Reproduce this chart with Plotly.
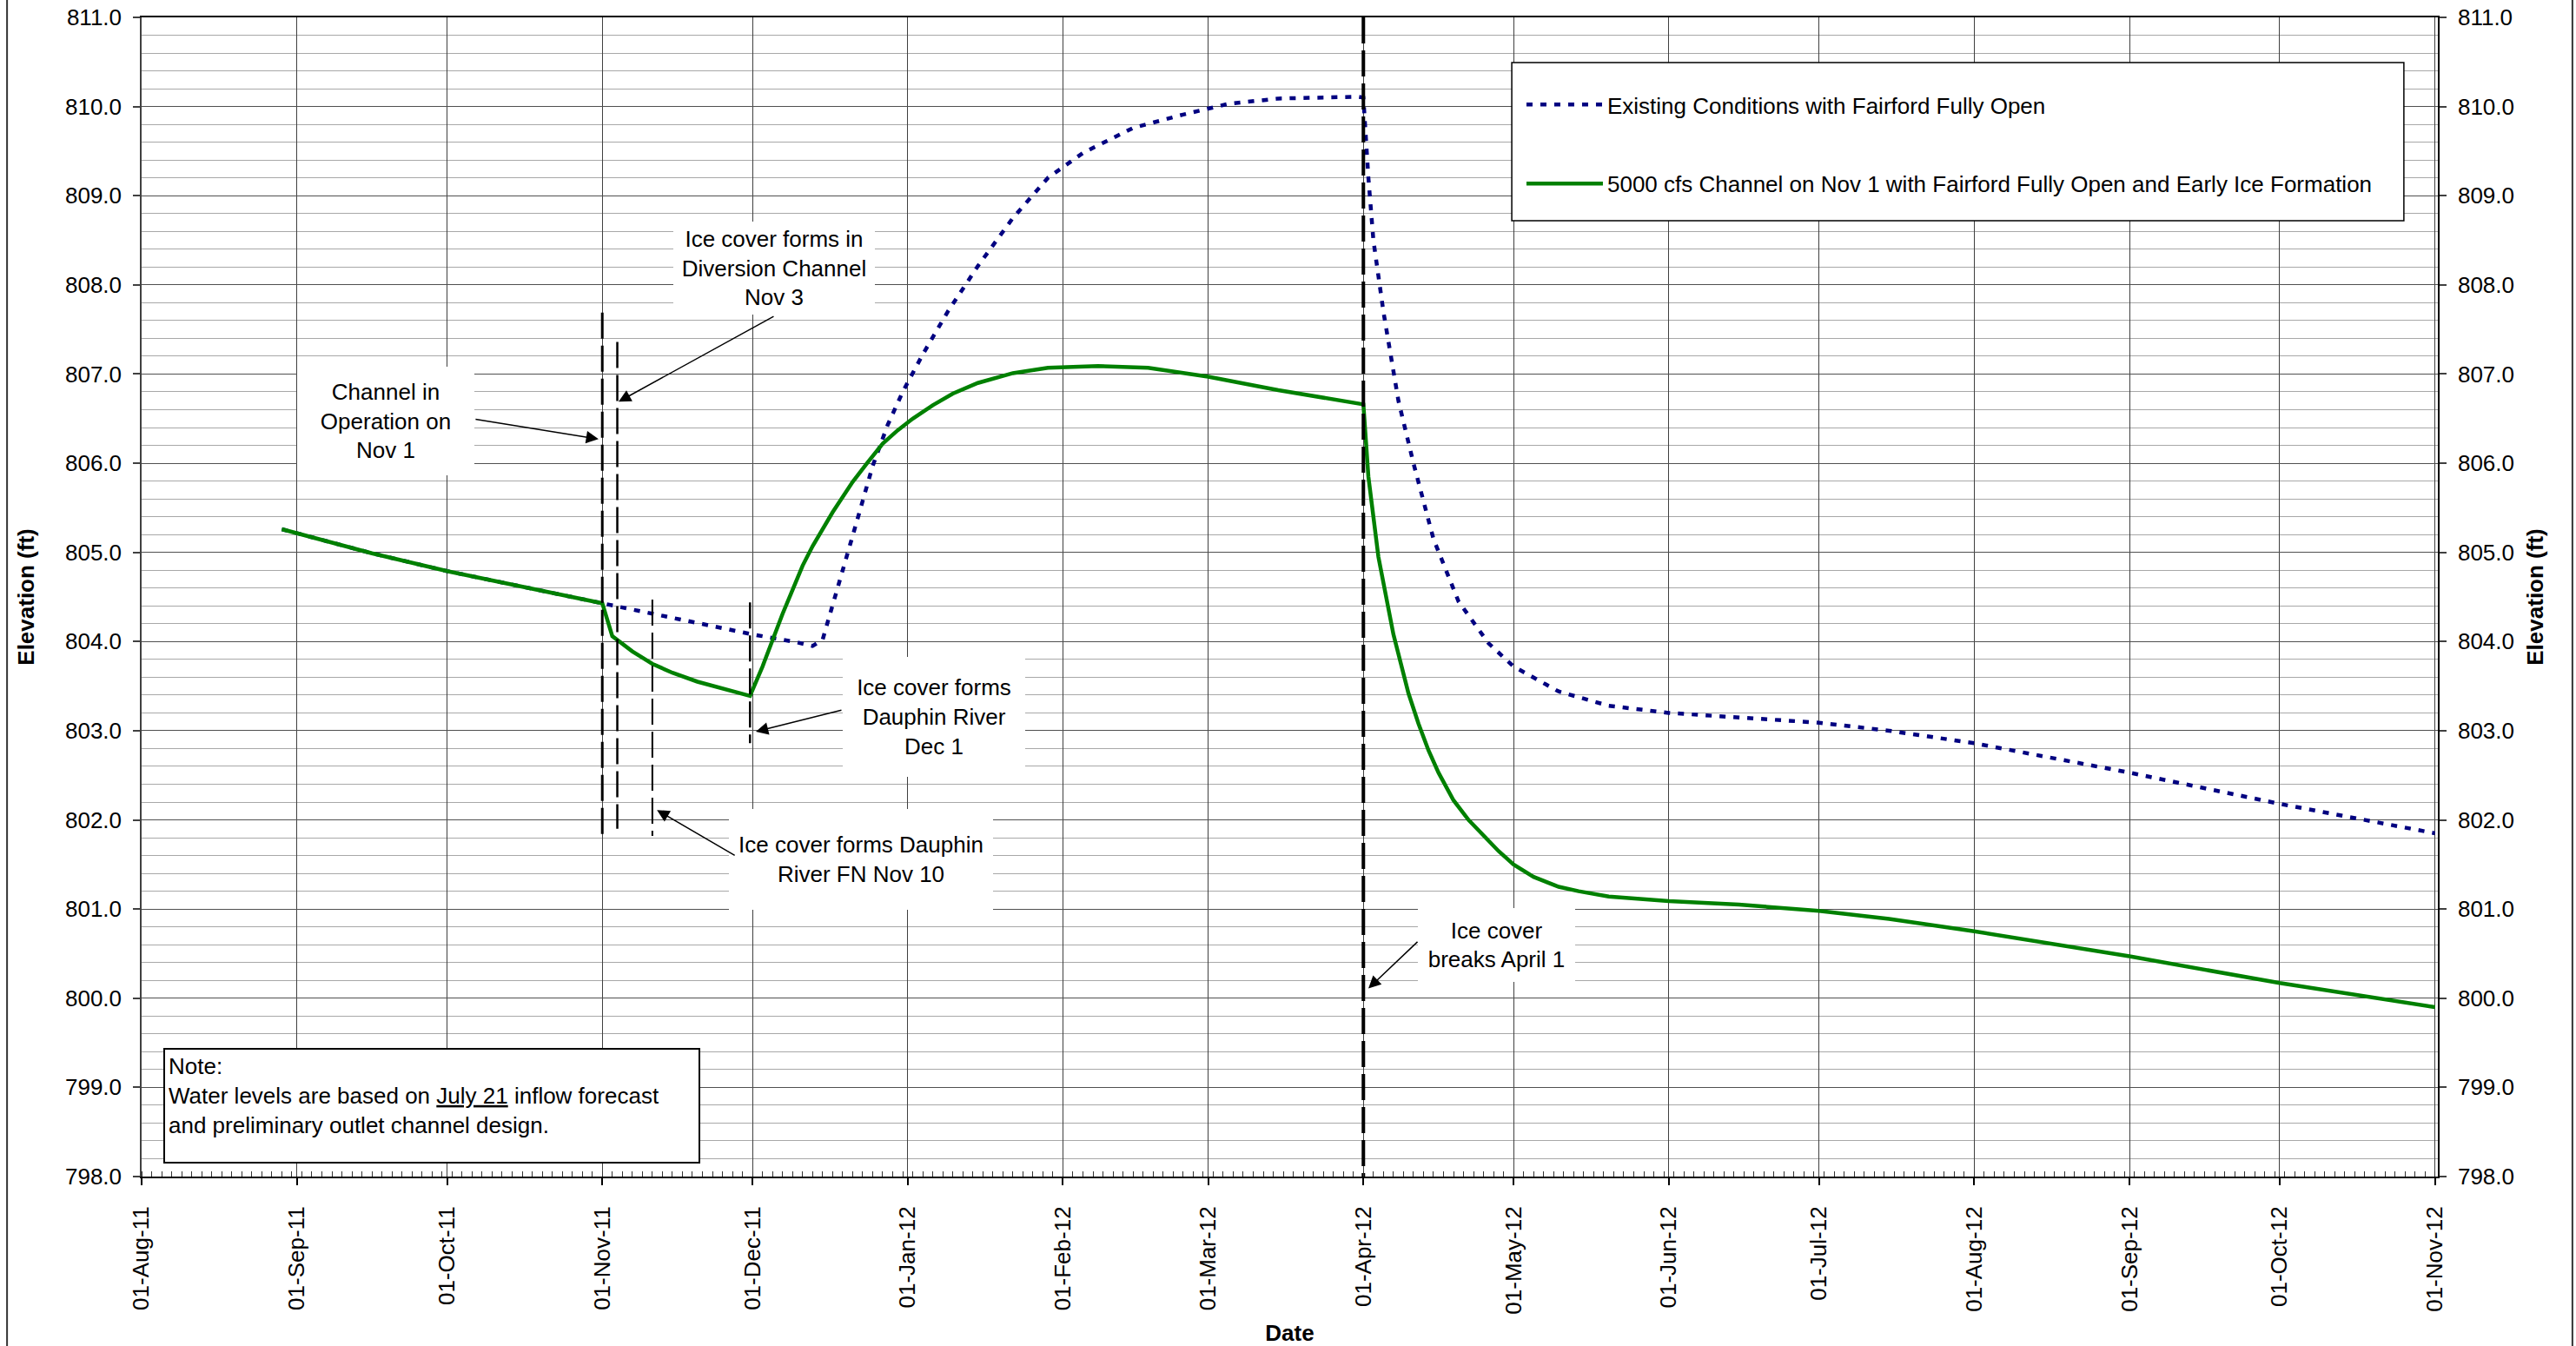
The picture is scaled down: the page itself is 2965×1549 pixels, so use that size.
import plotly.graph_objects as go

FONT = "Liberation Sans, Arial, Helvetica, sans-serif"

# Lake elevation, existing conditions with Fairford fully open (ft)
existing_dates = [
    "2011-08-29", "2011-09-16", "2011-10-01", "2011-11-01", "2011-11-11",
    "2011-11-20", "2011-12-01", "2011-12-10", "2011-12-13", "2011-12-15",
    "2011-12-17", "2011-12-19", "2011-12-22", "2011-12-25", "2011-12-28",
    "2011-12-31", "2012-01-04", "2012-01-09", "2012-01-15", "2012-01-22",
    "2012-01-29", "2012-02-05", "2012-02-15", "2012-02-25", "2012-03-05",
    "2012-03-15", "2012-03-31", "2012-04-01", "2012-04-02", "2012-04-03",
    "2012-04-05", "2012-04-08", "2012-04-11", "2012-04-15", "2012-04-20",
    "2012-04-26", "2012-05-01", "2012-05-10", "2012-05-20", "2012-06-01",
    "2012-06-15", "2012-07-01", "2012-07-15", "2012-08-01", "2012-09-01",
    "2012-10-01", "2012-11-01",
]
existing_elev = [
    805.26, 804.99, 804.79, 804.43, 804.31,
    804.21, 804.08, 803.99, 803.95, 804.02,
    804.40, 804.78, 805.38, 805.97, 806.43,
    806.80, 807.22, 807.70, 808.21, 808.75,
    809.20, 809.48, 809.76, 809.91, 810.03,
    810.09, 810.11, 810.10, 809.20, 808.50,
    807.70, 806.70, 806.00, 805.15, 804.45,
    803.98, 803.72, 803.44, 803.28, 803.20,
    803.15, 803.09, 803.00, 802.86, 802.53,
    802.18, 801.85,
]

# Lake elevation, 5000 cfs channel on Nov 1 with early ice formation (ft)
channel_dates = [
    "2011-08-29", "2011-09-16", "2011-10-01", "2011-11-01", "2011-11-03",
    "2011-11-07", "2011-11-11", "2011-11-15", "2011-11-20", "2011-11-25",
    "2011-11-30 12:00", "2011-12-03", "2011-12-05", "2011-12-07", "2011-12-09",
    "2011-12-11", "2011-12-13", "2011-12-15", "2011-12-17", "2011-12-19",
    "2011-12-21", "2011-12-24", "2011-12-27", "2011-12-30", "2012-01-02",
    "2012-01-06", "2012-01-10", "2012-01-15", "2012-01-22", "2012-01-29",
    "2012-02-08", "2012-02-18", "2012-03-01", "2012-03-15", "2012-04-01",
    "2012-04-02", "2012-04-04", "2012-04-07", "2012-04-10", "2012-04-12",
    "2012-04-14", "2012-04-16", "2012-04-19", "2012-04-22", "2012-04-25",
    "2012-04-28", "2012-05-01", "2012-05-05", "2012-05-10", "2012-05-14",
    "2012-05-20", "2012-06-01", "2012-06-15", "2012-07-01", "2012-07-15",
    "2012-08-01", "2012-09-01", "2012-10-01", "2012-11-01",
]
channel_elev = [
    805.26, 804.99, 804.79, 804.43, 804.06,
    803.89, 803.75, 803.65, 803.55, 803.47,
    803.39, 803.72, 804.02, 804.31, 804.58,
    804.85, 805.07, 805.27, 805.45, 805.62,
    805.79, 806.01, 806.22, 806.37, 806.50,
    806.65, 806.78, 806.90, 807.01, 807.07,
    807.09, 807.07, 806.97, 806.82, 806.66,
    805.85, 804.95, 804.08, 803.42, 803.08,
    802.78, 802.53, 802.22, 802.00, 801.82,
    801.65, 801.50, 801.36, 801.25, 801.20,
    801.14, 801.09, 801.05, 800.98, 800.89,
    800.75, 800.47, 800.17, 799.90,
]

# Event markers (dashed verticals): date, lower and upper elevation
event_dates = ["2011-11-01", "2011-11-04", "2011-11-11", "2011-11-30 12:00", "2012-04-01"]
event_low = [801.81, 801.90, 801.82, 802.86, 798.0]
event_high = [807.69, 807.36, 804.47, 804.44, 811.0]
event_widths = [3, 2.5, 2, 2.5, 4]

series_names = [
    "Existing Conditions with Fairford Fully Open",
    "5000 cfs Channel on Nov 1 with Fairford Fully Open and Early Ice Formation",
]

fig = go.Figure()

fig.add_trace(go.Scatter(
    x=existing_dates, y=existing_elev, mode="lines", name=series_names[0],
    legendgroup="a",
    line=dict(color="#000080", width=4.5, dash="7px,9px"),
))
fig.add_trace(go.Scatter(
    x=channel_dates, y=channel_elev, mode="lines", name=series_names[1],
    legendgroup="b",
    line=dict(color="#008000", width=4.5),
))

# Event markers sit on the right-hand elevation axis (same scale as the left)
for d, lo, hi, w in zip(event_dates, event_low, event_high, event_widths):
    fig.add_trace(go.Scatter(
        x=[d, d], y=[hi, lo], mode="lines", showlegend=False, hoverinfo="skip",
        yaxis="y2",
        line=dict(color="black", width=w, dash="30px,8px"),
    ))

# Callout labels
callouts = [
    ("Channel in<br>Operation on<br>Nov 1", "2011-09-18 20:00", 806.47, 204, 125),
    ("Ice cover forms in<br>Diversion Channel<br>Nov 3", "2011-12-05 07:00", 808.19, 232, 107),
    ("Ice cover forms<br>Dauphin River<br>Dec 1", "2012-01-06 07:00", 803.16, 210, 138),
    ("Ice cover forms Dauphin<br>River FN Nov 10", "2011-12-22 14:00", 801.56, 304, 116),
    ("Ice cover<br>breaks April 1", "2012-04-27 14:00", 800.60, 181, 85),
]
annotations = []
for text, x, y, w, h in callouts:
    annotations.append(dict(
        text=text, x=x, y=y, xref="x", yref="y", showarrow=False,
        width=w, height=h, bgcolor="white", borderpad=0, borderwidth=0,
        align="center", valign="middle",
        font=dict(family=FONT, size=26, color="black"),
    ))

# Arrow tips (date, elevation) and tail offsets in px
arrows = [
    ("2011-10-31 06:00", 806.27, -143, -23),
    ("2011-11-04 06:00", 806.69, 180, -99),
    ("2011-12-01 16:00", 802.99, 100, -25),
    ("2011-11-11 22:00", 802.11, 91, 53),
    ("2012-04-02", 800.11, 58, -55),
]
for x, y, ax, ay in arrows:
    annotations.append(dict(
        text="", x=x, y=y, xref="x", yref="y", ax=ax, ay=ay,
        showarrow=True, arrowhead=2, arrowsize=1.9, arrowwidth=1.5,
        arrowcolor="black", standoff=0,
    ))

# Note box
annotations.append(dict(
    text="Note:<br>Water levels are based on <u>July 21</u> inflow forecast"
         "<br>and preliminary outlet channel design.",
    xref="paper", yref="paper", x=0.00946, y=0.1109,
    xanchor="left", yanchor="top", showarrow=False,
    width=606, height=121, align="left", valign="top",
    bgcolor="white", bordercolor="black", borderwidth=2, borderpad=4,
    font=dict(family=FONT, size=26, color="black"),
))

shapes = [
    # legend frame
    dict(type="rect", xref="paper", yref="paper",
         x0=0.5967, x1=0.9852, y0=0.8246, y1=0.9610,
         fillcolor="white", line=dict(color="black", width=1.5), layer="above"),
    # outer chart frame
    dict(type="rect", xref="paper", yref="paper",
         x0=-0.0586, x1=1.0586, y0=-0.16, y1=1.03,
         fillcolor="rgba(0,0,0,0)", line=dict(color="#333333", width=2),
         layer="below"),
]

elev_axis = dict(
    range=[798, 811], dtick=1, tick0=798, tickformat=".1f",
    ticks="outside", ticklen=8, tickwidth=1.5, tickcolor="#404040",
    ticklabelstandoff=8,
    tickfont=dict(family=FONT, size=26, color="black"),
    zeroline=False,
)

fig.update_layout(
    width=2965, height=1549,
    margin=dict(l=163, r=159, t=20, b=195, autoexpand=False),
    paper_bgcolor="white", plot_bgcolor="white",
    font=dict(family=FONT, size=26, color="black"),
    showlegend=True,
    legend=dict(
        x=0.6012, y=0.9423, xanchor="left", yanchor="top",
        bgcolor="rgba(0,0,0,0)", borderwidth=0,
        font=dict(family=FONT, size=26, color="black"),
        itemwidth=88, tracegroupgap=54, traceorder="grouped",
    ),
    annotations=annotations,
    shapes=shapes,
    xaxis=dict(
        type="date",
        range=["2011-08-01", "2012-11-01 14:00"],
        tick0="2011-08-01", dtick="M1", tickformat="%d-%b-%y",
        tickangle=-90, ticks="outside", ticklen=8, tickwidth=1.5, tickcolor="black",
        ticklabelstandoff=14,
        tickfont=dict(family=FONT, size=26, color="black"),
        showgrid=True, gridcolor="#404040", gridwidth=1,
        showline=True, linecolor="black", linewidth=2, mirror=True,
        zeroline=False,
        minor=dict(dtick=172800000, tick0="2011-08-01", ticks="inside",
                   ticklen=6, tickcolor="#333333", tickwidth=1, showgrid=False),
        title=dict(text="<b>Date</b>", standoff=18,
                   font=dict(family=FONT, size=26, color="black")),
    ),
    yaxis=dict(
        **elev_axis,
        showgrid=True, gridcolor="#505050", gridwidth=1,
        showline=True, linecolor="#404040", linewidth=1.5,
        minor=dict(dtick=0.2, showgrid=True, gridcolor="#a8a8a8", gridwidth=1, ticks=""),
        title=dict(text="<b>Elevation (ft)</b>", standoff=28,
                   font=dict(family=FONT, size=26, color="black")),
    ),
    yaxis2=dict(
        **elev_axis,
        overlaying="y", side="right", anchor="x",
        showgrid=False, showline=True, linecolor="black", linewidth=1.5,
        title=dict(text="<b>Elevation (ft)</b>", standoff=16,
                   font=dict(family=FONT, size=26, color="black")),
    ),
)

fig.write_html("out.html")
